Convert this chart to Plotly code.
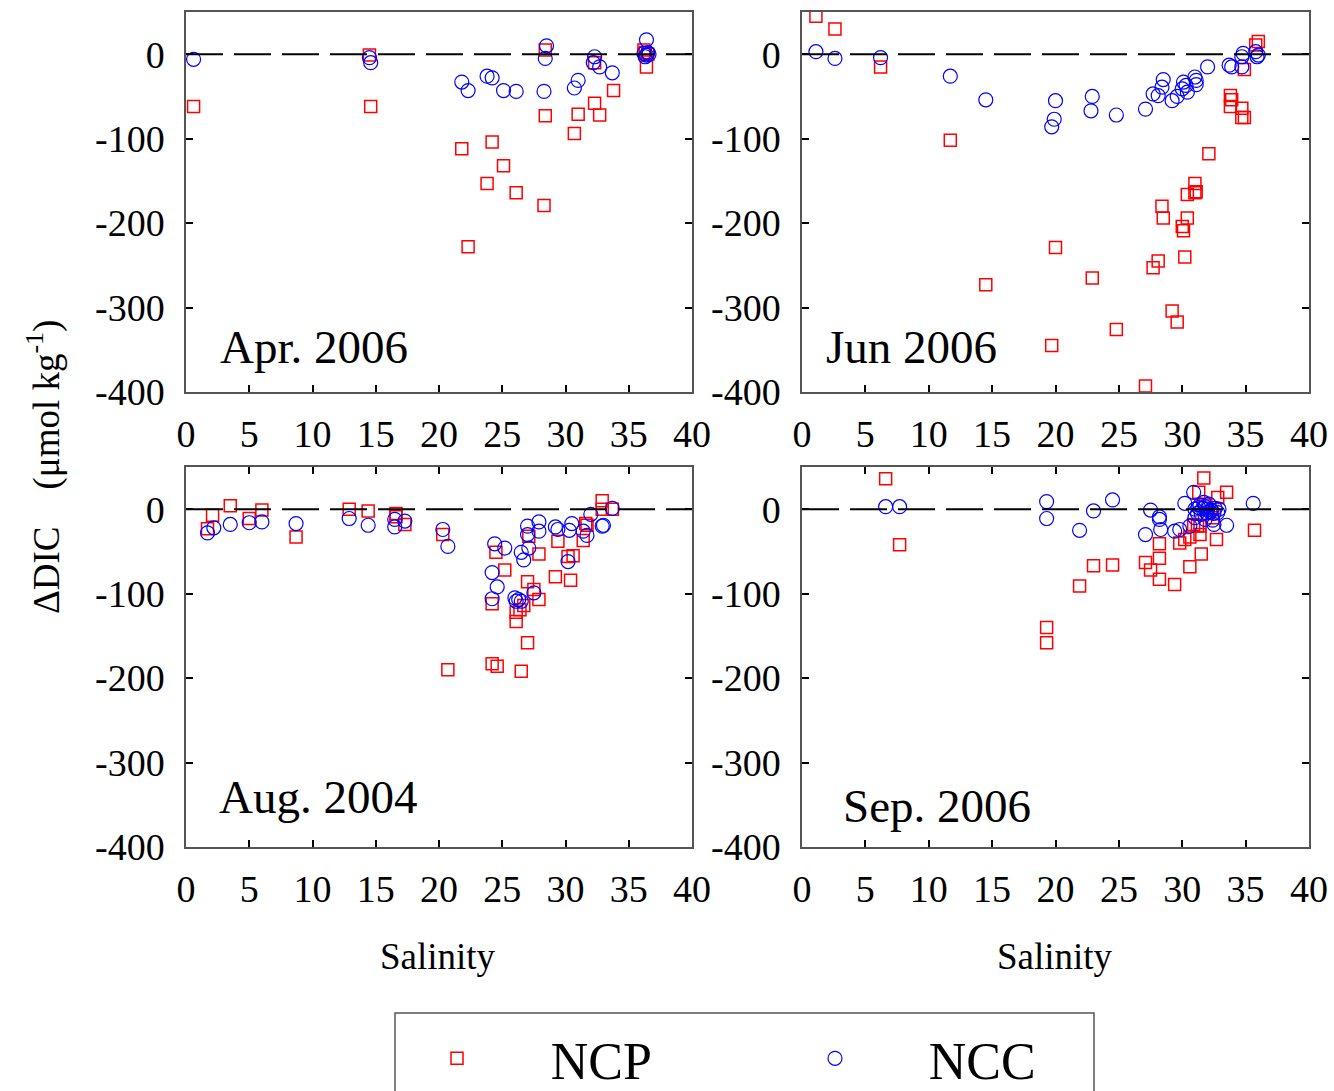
import plotly.graph_objects as go

# ---------------- data ----------------
apr_ncp_s = [0.6, 14.5, 14.6, 28.4, 28.4, 21.8, 24.2, 25.1, 23.8, 26.1, 28.3, 22.3, 31.0, 30.7, 32.3, 32.7, 33.8, 32.3, 36.4, 36.3, 36.5, 36.2]
apr_ncp_d = [-62, -1, -62, 5, -73, -112, -104, -132, -153, -164, -179, -228, -71, -94, -58, -72, -43, -10, -15, 2, 0, 5]
apr_ncc_s = [0.6, 14.5, 14.6, 21.8, 22.3, 23.8, 24.2, 25.1, 26.1, 28.5, 28.4, 28.3, 31.0, 30.7, 32.3, 32.2, 32.7, 33.7, 36.4, 36.2, 36.4, 36.6, 36.3, 36.5]
apr_ncc_d = [-6, -4, -10, -33, -43, -26, -28, -43, -44, 10, -5, -44, -31, -40, -3, -10, -15, -22, 17, 1, -1, 0, -3, 2]

jun_ncp_s = [1.1, 2.6, 6.2, 11.7, 14.5, 19.7, 20.0, 22.9, 24.8, 27.1, 27.7, 28.1, 28.4, 28.5, 29.2, 29.6, 30.0, 30.1, 30.2, 30.4, 30.4, 31.0, 31.1, 31.0, 32.1, 33.8, 33.9, 33.8, 34.7, 34.7, 34.9, 34.9, 35.8, 36.0]
jun_ncp_d = [45, 30, -15, -102, -273, -345, -229, -265, -326, -393, -253, -245, -180, -194, -304, -317, -204, -209, -240, -194, -166, -153, -163, -164, -118, -49, -54, -62, -64, -75, -75, -18, 11, 15]
jun_ncc_s = [1.1, 2.6, 6.2, 11.7, 14.5, 20.0, 19.9, 19.7, 22.9, 22.8, 24.8, 27.1, 27.7, 28.1, 28.4, 28.5, 29.2, 29.6, 30.0, 30.1, 30.4, 30.3, 31.0, 31.1, 31.1, 32.0, 33.7, 33.9, 34.7, 34.8, 34.7, 35.8, 36.0, 35.9]
jun_ncc_d = [3, -5, -4, -26, -54, -55, -77, -86, -50, -67, -72, -65, -47, -49, -39, -30, -55, -50, -41, -33, -45, -37, -27, -36, -31, -15, -13, -15, -15, 1, -3, 3, -1, -3]

aug_ncp_s = [2.1, 1.7, 3.5, 5.0, 6.0, 8.7, 12.9, 14.4, 16.6, 16.6, 17.3, 20.3, 20.7, 24.2, 24.6, 24.5, 25.2, 24.2, 26.1, 26.1, 26.4, 26.5, 26.7, 27.0, 27.0, 27.1, 27.5, 27.9, 27.9, 29.2, 29.4, 30.2, 30.6, 30.4, 31.4, 31.7, 31.6, 32.9, 32.9, 33.7]
aug_ncp_d = [-7, -23, 4, -11, -1, -33, 0, -2, -5, -9, -18, -30, -190, -183, -186, -51, -72, -112, -122, -133, -119, -192, -114, -86, -158, -32, -95, -53, -107, -80, -38, -56, -55, -84, -37, -19, -17, 10, 0, 0]
aug_ncc_s = [1.7, 2.2, 3.5, 5.0, 6.0, 8.7, 12.9, 14.4, 16.5, 16.5, 17.3, 20.3, 20.7, 24.4, 25.2, 27.0, 27.0, 27.9, 27.9, 27.1, 26.5, 26.7, 24.2, 24.6, 24.2, 26.0, 26.3, 26.1, 26.5, 27.5, 29.2, 29.4, 30.5, 30.3, 30.2, 31.4, 31.7, 32.0, 32.9, 33.0, 33.7]
aug_ncc_d = [-28, -22, -18, -16, -15, -17, -11, -19, -12, -21, -14, -24, -44, -41, -46, -20, -30, -15, -26, -46, -51, -60, -75, -92, -106, -105, -107, -109, -109, -99, -21, -24, -17, -25, -62, -26, -31, -6, -20, -19, 1]

sep_ncp_s = [6.6, 7.7, 19.3, 19.3, 21.9, 23.0, 24.5, 27.1, 27.5, 28.2, 28.2, 28.2, 29.4, 29.8, 30.2, 30.6, 30.6, 30.9, 31.2, 31.4, 31.5, 31.3, 31.7, 32.7, 32.8, 33.5, 35.7, 32.0, 31.8, 32.4, 31.4]
sep_ncp_d = [36, -42, -140, -158, -91, -67, -66, -63, -72, -41, -58, -83, -89, -40, -36, -33, -68, -18, -20, -20, -53, 20, 37, -36, 14, 20, -25, -5, 5, -10, -30]
sep_ncc_s = [6.6, 7.7, 19.3, 19.3, 21.9, 23.0, 24.5, 27.1, 27.5, 28.2, 28.2, 28.3, 29.4, 29.8, 30.2, 30.9, 30.6, 33.5, 35.6, 32.5, 31.0, 31.3, 31.6, 31.8, 32.0, 32.3, 32.6, 32.9, 31.2, 31.5, 31.9, 32.2, 32.5, 32.8, 31.4, 31.7, 32.1, 31.0, 31.8, 32.4]
sep_ncc_d = [3, 3, 9, -11, -25, -2, 11, -30, -1, -9, -12, -24, -26, -24, 7, 20, -20, -19, 7, -18, 0, 2, 1, 3, 0, -1, 1, 0, -5, -6, -4, -3, -5, -4, 5, 8, 6, -10, -12, -13]

panel_labels = ["Apr. 2006", "Jun 2006", "Aug. 2004", "Sep. 2006"]
x_ticks = [0, 5, 10, 15, 20, 25, 30, 35, 40]
y_ticks = [-400, -300, -200, -100, 0]
series_names = ["NCP", "NCC"]

panels = [
    (apr_ncp_s, apr_ncp_d, apr_ncc_s, apr_ncc_d),
    (jun_ncp_s, jun_ncp_d, jun_ncc_s, jun_ncc_d),
    (aug_ncp_s, aug_ncp_d, aug_ncc_s, aug_ncc_d),
    (sep_ncp_s, sep_ncp_d, sep_ncc_s, sep_ncc_d),
]

# ---------------- layout ----------------
W, H = 1334, 1091
FONT = "Liberation Serif, Times New Roman, serif"

def px_x(p):
    return p / W

def px_y(p):
    return 1 - p / H

xdoms = [(px_x(186), px_x(692)), (px_x(802), px_x(1309))]
ydoms = [(px_y(392), px_y(12)), (px_y(847), px_y(467))]

fig = go.Figure()
layout = dict(
    width=W, height=H,
    margin=dict(l=0, r=0, t=0, b=0, autoexpand=False),
    paper_bgcolor="white", plot_bgcolor="white",
    font=dict(family=FONT, color="black"),
    showlegend=True,
)

shapes = []
annotations = []
label_pos = [(314, 347), (911, 347), (318, 797), (937, 806)]

for i, (ps, pdv, cs, cd) in enumerate(panels):
    row, col = divmod(i, 2)
    n = i + 1
    xa = "xaxis" if n == 1 else f"xaxis{n}"
    ya = "yaxis" if n == 1 else f"yaxis{n}"
    xr = "x" if n == 1 else f"x{n}"
    yr = "y" if n == 1 else f"y{n}"
    layout[xa] = dict(
        domain=xdoms[col], anchor=yr, range=[0, 40], tickvals=x_ticks,
        ticks="inside", ticklen=7, tickwidth=1.5, tickcolor="black",
        showline=True, linecolor="#555", linewidth=1.5,
        mirror="ticks" if row == 1 else True,
        showgrid=False, zeroline=False, automargin=False,
        tickfont=dict(size=38, family=FONT), ticklabelstandoff=8,
    )
    layout[ya] = dict(
        domain=ydoms[row], anchor=xr, range=[-400, 50], tickvals=y_ticks,
        ticktext=[str(v) for v in y_ticks],
        ticks="inside", ticklen=7, tickwidth=1.5, tickcolor="black",
        showline=True, linecolor="#555", linewidth=1.5, mirror="ticks",
        showgrid=False, zeroline=False, automargin=False,
        tickfont=dict(size=38, family=FONT), ticklabelstandoff=12,
    )
    shapes.append(dict(
        type="line", xref=f"{xr} domain", yref=yr, x0=0, x1=1, y0=0, y1=0,
        line=dict(color="black", width=2, dash="37px,11px"), layer="above",
    ))
    fig.add_trace(go.Scatter(
        x=ps, y=pdv, mode="markers", name=series_names[0], legendgroup="ncp",
        showlegend=(i == 0), xaxis=xr, yaxis=yr,
        marker=dict(symbol="square-open", size=12, color="red", line=dict(width=1.5, color="red")),
    ))
    fig.add_trace(go.Scatter(
        x=cs, y=cd, mode="markers", name=series_names[1], legendgroup="ncc",
        showlegend=(i == 0), xaxis=xr, yaxis=yr,
        marker=dict(symbol="circle-open", size=14, color="blue", line=dict(width=1.2, color="blue")),
    ))
    lx, ly = label_pos[i]
    annotations.append(dict(
        text=panel_labels[i], x=px_x(lx), y=px_y(ly), xref="paper", yref="paper",
        showarrow=False, font=dict(size=47, family=FONT), xanchor="center", yanchor="middle",
    ))

# axis titles
for cx in (438, 1055):
    annotations.append(dict(
        text="Salinity", x=px_x(cx), y=px_y(956), xref="paper", yref="paper",
        showarrow=False, font=dict(size=37, family=FONT), xanchor="center", yanchor="middle",
    ))
annotations.append(dict(
    text="ΔDIC\u00a0\u00a0\u00a0\u00a0(μmol kg<sup>-1</sup>)", x=px_x(44), y=px_y(467), xref="paper", yref="paper",
    showarrow=False, textangle=-90, font=dict(size=37, family=FONT), xanchor="center", yanchor="middle",
))

# legend box
shapes.append(dict(
    type="rect", xref="paper", yref="paper", x0=px_x(395), x1=px_x(1094), y0=px_y(1100), y1=px_y(1013),
    line=dict(color="#555", width=1.5), fillcolor="rgba(0,0,0,0)",
))

layout["shapes"] = shapes
layout["annotations"] = annotations
layout["legend"] = dict(
    orientation="h", x=px_x(437), y=px_y(1018), xanchor="left", yanchor="top",
    font=dict(size=52, family=FONT), bgcolor="rgba(0,0,0,0)", borderwidth=0,
    entrywidth=333, entrywidthmode="pixels", itemsizing="trace",
)
fig.update_layout(**layout)
for tr in fig.data:
    if tr.name in series_names:
        tr.name = "\u00a0" * 5 + "\u200a\u200a" + tr.name

fig.write_html("out.html")
